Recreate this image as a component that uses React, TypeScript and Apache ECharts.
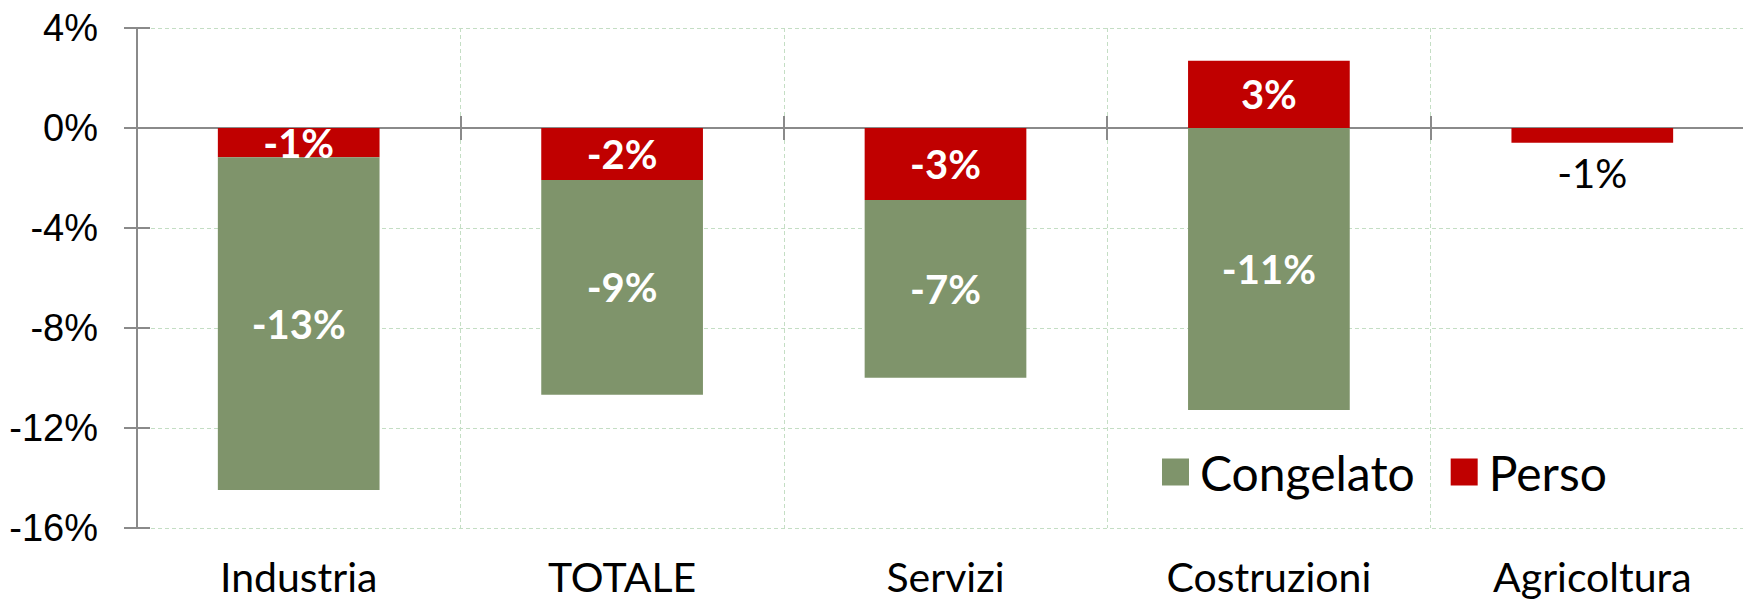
import React, { useEffect, useRef } from "react";
import * as echarts from "echarts";

const categories = ["Industria", "TOTALE", "Servizi", "Costruzioni", "Agricoltura"];
const persoValues = [-1.17, -2.08, -2.88, 2.69, -0.59];
const congelatoValues = [-13.31, -8.59, -7.11, -11.28, 0];
const seriesNames = ["Congelato", "Perso"];
const yMin = -16;
const yMax = 4;
const yInterval = 4;

const GREEN = "#7f946b";
const RED = "#c00000";
const GRID = "#c4dec4";
const AXIS = "#8a8a8a";
const FONT = "Lato, 'Noto Sans', sans-serif";
const YFONT = "'Liberation Sans', Arial, sans-serif";

const pct = (v: number) => `${Math.round(v)}%`;

export default function App() {
  const ref = useRef<HTMLDivElement>(null);
  useEffect(() => {
    if (!ref.current) return;
    const chart = echarts.init(ref.current, undefined, { renderer: "svg" });
    const dataLabel = {
      show: true,
      position: "inside",
      color: "#ffffff",
      fontFamily: FONT,
      fontWeight: "bold",
      fontSize: 40,
      formatter: (p: any) => (Math.abs(p.value) < 0.3 ? "" : pct(p.value)),
    };
    const persoData = persoValues.map((v, i) =>
      i === categories.length - 1
        ? {
            value: v,
            label: {
              position: "bottom",
              distance: 10,
              color: "#000000",
              fontWeight: "normal",
            },
          }
        : v
    );
    const axisLineStyle = { color: AXIS, width: 2 };
    chart.setOption({
      animation: false,
      grid: {
        left: 137,
        width: 1617,
        top: 28,
        bottom: 73,
        containLabel: false,
        outerBoundsMode: "none",
      },
      legend: {
        data: seriesNames,
        left: 1162,
        top: 448,
        padding: 0,
        icon: "rect",
        itemWidth: 27,
        itemHeight: 27,
        itemGap: 36,
        textStyle: { fontFamily: FONT, fontSize: 48, color: "#000", padding: [0, 0, 0, 6] },
      },
      xAxis: [
        {
          type: "category",
          data: categories,
          position: "bottom",
          axisLine: { show: false, onZero: false },
          axisTick: { show: false },
          axisLabel: {
            fontFamily: FONT,
            fontSize: 41,
            lineHeight: 40,
            color: "#000",
            margin: 28,
          },
          splitLine: { show: true, lineStyle: { color: GRID, type: [4, 3], width: 1 } },
        },
        {
          type: "category",
          data: categories,
          position: "bottom",
          axisLine: { show: true, onZero: true, onZeroAxisIndex: 0, lineStyle: axisLineStyle },
          axisTick: { show: true, length: 12, lineStyle: axisLineStyle },
          axisLabel: { show: false },
          splitLine: { show: false },
        },
        {
          type: "category",
          data: categories,
          position: "top",
          axisLine: { show: true, onZero: true, onZeroAxisIndex: 1, lineStyle: axisLineStyle },
          axisTick: { show: true, length: 12, lineStyle: axisLineStyle },
          axisLabel: { show: false },
          splitLine: { show: false },
        },
      ],
      yAxis: [
        {
          type: "value",
          min: yMin,
          max: yMax,
          interval: yInterval,
          position: "left",
          axisLine: { show: true, lineStyle: axisLineStyle },
          axisTick: { show: true, length: 13, lineStyle: axisLineStyle },
          axisLabel: {
            fontFamily: YFONT,
            fontSize: 38,
            color: "#000",
            margin: 39,
            formatter: (v: number) => `${v}%`,
          },
          splitLine: { show: true, lineStyle: { color: GRID, type: [4, 3], width: 1 } },
        },
        {
          type: "value",
          min: yMin,
          max: yMax,
          interval: yInterval,
          position: "left",
          axisLine: { show: false },
          axisTick: { show: true, inside: true, length: 13, lineStyle: axisLineStyle },
          axisLabel: { show: false },
          splitLine: { show: false },
        },
      ],
      series: [
        {
          name: "Perso",
          type: "bar",
          stack: "total",
          barWidth: "50%",
          itemStyle: { color: RED },
          label: dataLabel,
          data: persoData,
          z: 1,
        },
        {
          name: "Congelato",
          type: "bar",
          stack: "total",
          barWidth: "50%",
          itemStyle: { color: GREEN },
          label: dataLabel,
          data: congelatoValues,
          z: 1,
        },
      ],
    });
    return () => chart.dispose();
  }, []);
  return (
    <div
      ref={ref}
      style={{ position: "fixed", left: 0, top: 0, width: 1743, height: 601, background: "#fff" }}
    />
  );
}
